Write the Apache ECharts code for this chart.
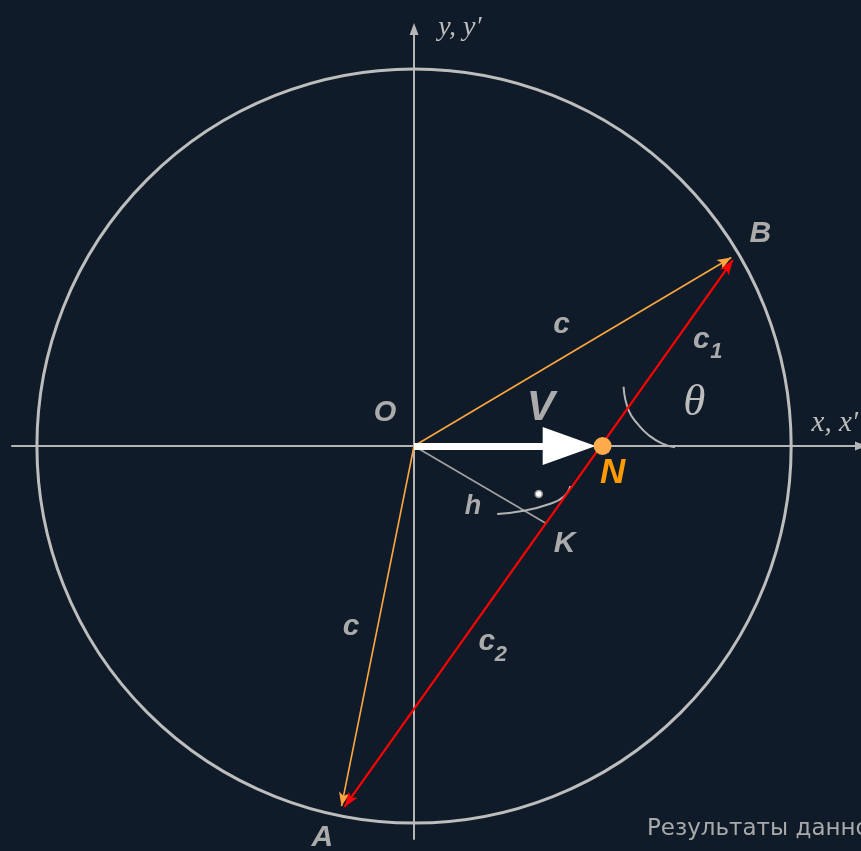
<!DOCTYPE html>
<html>
<head>
<meta charset="utf-8">
<title>Окружность скоростей</title>
<script src="https://cdn.jsdelivr.net/npm/echarts@6/dist/echarts.min.js"></script>
<style>
  html, body { margin: 0; padding: 0; background: #0f1b28; }
  #chart { width: 861px; height: 851px; }
</style>
</head>
<body>
<div id="chart"></div>
<script>
// все координаты в долях радиуса окружности c (c = 1), начало в точке O
const radiusC = 1
const pointO = [0, 0]
const pointN = [0.5, 0]
const pointB = [0.857, 0.508]     // остриё стрелки в точке B
const pointA = [-0.196, -0.971]   // остриё стрелки в точке A
const pointK = [0.3505, -0.205]
const tipV = [0.4815, 0]
const rightAngleDot = [0.3307, -0.127]
// дуги
const arcTheta = [[0.5556, 0.1569], [0.5688, 0.0952], [0.5952, 0.0556], [0.6217, 0.0291], [0.6569, 0.0071], [0.6923, -0.0034]]
const arcK = [[0.2204, -0.1799], [0.2910, -0.1712], [0.3571, -0.1542], [0.3968, -0.1341], [0.4146, -0.1058]]

const caption = 'Результаты данного расчёта'

const PX = 1 / 378 // один пиксель в единицах радиуса

// отодвинуть конец q к p на d пикселей (символ стрелки центрируется на конце линии)
function pullBack (p, q, d) {
  const dx = q[0] - p[0]
  const dy = q[1] - p[1]
  const len = Math.sqrt(dx * dx + dy * dy)
  return [q[0] - dx / len * d * PX, q[1] - dy / len * d * PX]
}

const grey = '#ababab'
const sans = '"Liberation Sans", Arial, sans-serif'
const serif = '"Liberation Serif", "DejaVu Serif", serif'

function lbl (text, at, size, color, family, extra) {
  return Object.assign({
    value: at,
    label: {
      show: true,
      position: 'inside',
      formatter: text,
      color: color || grey,
      fontSize: size,
      fontFamily: family || sans,
      fontStyle: 'italic',
      fontWeight: family === serif ? 'normal' : 'bold'
    }
  }, extra || {})
}

const chart = echarts.init(document.getElementById('chart'))

const axisCommon = {
  type: 'value',
  axisLine: {
    onZero: true,
    symbol: ['none', 'triangle'],
    symbolSize: [9, 12],
    lineStyle: { color: '#b5b5b5', width: 2 }
  },
  axisTick: { show: false },
  axisLabel: { show: false },
  splitLine: { show: false }
}

const option = {
  backgroundColor: '#0f1b28',
  animation: false,
  title: {
    text: caption,
    left: 647,
    top: 818,
    padding: 0,
    textStyle: { color: '#a9a9a9', fontSize: 23, fontWeight: 'normal', fontFamily: '"DejaVu Sans", sans-serif' }
  },
  grid: { left: 12, right: -2, top: 29, bottom: 12 },
  xAxis: Object.assign({ min: -1.0661, max: 1.1852 }, axisCommon),
  yAxis: Object.assign({ min: -1.0397, max: 1.1032 }, axisCommon),
  series: [
    {
      // окружность радиуса c
      type: 'custom',
      coordinateSystem: 'cartesian2d',
      silent: true,
      z: 1,
      encode: { x: 0, y: 1 },
      data: [[pointO[0], pointO[1], radiusC]],
      renderItem (params, api) {
        const c = api.coord([api.value(0), api.value(1)])
        const r = api.size([api.value(2), 0])[0]
        return {
          type: 'circle',
          shape: { cx: c[0], cy: c[1], r: r },
          style: { fill: 'none', stroke: '#bdbdbd', lineWidth: 3 }
        }
      }
    },
    {
      // высота h = OK
      type: 'lines',
      coordinateSystem: 'cartesian2d',
      z: 2,
      lineStyle: { color: '#a3a3a3', width: 1.6, opacity: 1 },
      data: [{ coords: [pointO, pointK] }]
    },
    {
      type: 'line',
      smooth: true,
      showSymbol: false,
      z: 2,
      lineStyle: { color: '#b4b4b4', width: 2 },
      data: arcTheta
    },
    {
      type: 'line',
      smooth: true,
      showSymbol: false,
      z: 2,
      lineStyle: { color: '#b4b4b4', width: 2 },
      data: arcK
    },
    {
      // радиусы OB и OA
      type: 'lines',
      coordinateSystem: 'cartesian2d',
      z: 3,
      symbol: ['none', 'arrow'],
      symbolSize: [[8, 14], [8, 14]],
      lineStyle: { color: '#ffa640', width: 1.6, opacity: 1 },
      data: [
        { coords: [pointO, pullBack(pointO, pointB, 7)] },
        { coords: [pointO, pullBack(pointO, pointA, 7)] }
      ]
    },
    {
      // хорда AB через N
      type: 'lines',
      coordinateSystem: 'cartesian2d',
      z: 4,
      symbol: ['arrow', 'arrow'],
      symbolSize: [[8, 15], [8, 15]],
      lineStyle: { color: '#ff0000', width: 2.2, opacity: 1 },
      data: [{ coords: [pullBack(pointB, pointA, 7.5), pullBack(pointA, pointB, 7.5)] }]
    },
    {
      // вектор V
      type: 'lines',
      coordinateSystem: 'cartesian2d',
      z: 5,
      symbol: ['none', 'triangle'],
      symbolSize: [[38, 53], [38, 53]],
      lineStyle: { color: '#ffffff', width: 7, opacity: 1 },
      data: [{ coords: [pointO, pullBack(pointO, tipV, 26.5)] }]
    },
    {
      type: 'scatter',
      z: 6,
      clip: false,
      data: [
        { value: pointN, symbolSize: 18, itemStyle: { color: '#ffab4c', opacity: 1 } },
        { value: rightAngleDot, symbolSize: 7, itemStyle: { color: '#ffffff', borderColor: '#9a9a9a', borderWidth: 1.5, opacity: 1 } }
      ]
    },
    {
      // подписи
      type: 'scatter',
      z: 7,
      clip: false,
      silent: true,
      symbolSize: 1,
      itemStyle: { color: 'rgba(0,0,0,0)', opacity: 1 },
      data: [
        lbl('O', [-0.0767, 0.0873], 29),
        lbl('V', [0.336, 0.1005], 42),
        lbl('N', [0.5265, -0.0714], 35, '#ff9a00'),
        lbl('h', [0.1561, -0.1614], 27),
        lbl('K', [0.3995, -0.2593], 30),
        lbl('B', [0.918, 0.5608], 30),
        lbl('A', [-0.2434, -1.037], 30),
        lbl('c', [0.3915, 0.3201], 30),
        lbl('c', [0.7619, 0.2804], 30),
        lbl('1', [0.8016, 0.2487], 22),
        lbl('c', [-0.1667, -0.4788], 30),
        lbl('c', [0.1931, -0.5185], 30),
        lbl('2', [0.2302, -0.5529], 22),
        lbl('θ', [0.7434, 0.1138], 45, '#bdbdbd', serif),
        lbl('y, y′', [0.1217, 1.1058], 28, '#bdbdbd', serif),
        lbl('x, x′', [1.0529, 0.0608], 29, '#bdbdbd', serif, { label: {
          show: true, position: 'right', distance: 0, formatter: 'x, x′', color: '#bdbdbd',
          fontSize: 29, fontFamily: serif, fontStyle: 'italic'
        } })
      ]
    }
  ]
}

chart.setOption(option)
</script>
</body>
</html>
